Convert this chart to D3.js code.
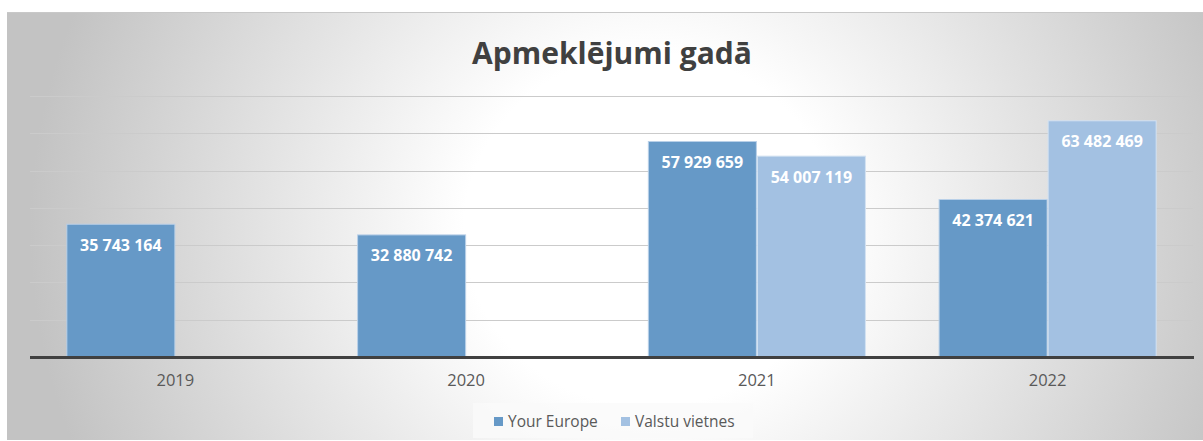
<!DOCTYPE html>
<html>
<head>
<meta charset="utf-8">
<script src="https://cdn.jsdelivr.net/npm/d3@7"></script>
<style>
  body { margin: 0; background: #fff; }
  text { font-family: "Open Sans", "Noto Sans", sans-serif; }
</style>
</head>
<body>
<div id="chart"></div>
<script>
// data
const years = ["2019", "2020", "2021", "2022"]
const seriesNames = ["Your Europe", "Valstu vietnes"]
const yourEurope = [35743164, 32880742, 57929659, 42374621]
const valstuVietnes = [null, null, 54007119, 63482469]
const yTicks = [0, 10e6, 20e6, 30e6, 40e6, 50e6, 60e6, 70e6]
const colors = ["#6699c7", "#a3c1e2"]
const strokes = ["#b9d0e8", "#d3e2f2"]

const w = 1203
const h = 441

const svg = d3.select("#chart")
  .append("svg")
  .attr("width", w)
  .attr("height", h)

// background gradient
const defs = svg.append("defs")
const grad = defs.append("radialGradient")
  .attr("id", "bg")
  .attr("gradientUnits", "userSpaceOnUse")
  .attr("cx", 650).attr("cy", 230).attr("r", 620)
  .attr("gradientTransform", "translate(650,230) scale(1,0.95) translate(-650,-230)")
grad.append("stop").attr("offset", "0").attr("stop-color", "#ffffff")
grad.append("stop").attr("offset", "0.3").attr("stop-color", "#ffffff")
grad.append("stop").attr("offset", "1").attr("stop-color", "#c3c3c3")

svg.append("rect")
  .attr("x", 7).attr("y", 12)
  .attr("width", 1220).attr("height", 428)
  .attr("fill", "url(#bg)")
svg.append("line")
  .attr("x1", 7).attr("x2", w)
  .attr("y1", 12.5).attr("y2", 12.5)
  .attr("stroke", "#c8c8c8")

// scales
const x0 = d3.scaleBand()
  .domain(years)
  .range([30, 1193])
  .paddingInner(0.25)
  .paddingOuter(0.125)

const x1 = d3.scaleBand()
  .domain(seriesNames)
  .range([0, x0.bandwidth()])

const y = d3.scaleLinear()
  .domain([0, 70e6])
  .range([357, 96])

// gridlines
svg.append("g")
  .selectAll("line")
  .data(yTicks.slice(1))
  .join("line")
  .attr("x1", 30).attr("x2", 1193)
  .attr("y1", d => Math.round(y(d)) + 0.5)
  .attr("y2", d => Math.round(y(d)) + 0.5)
  .attr("stroke", "#cbcbcb")
  .attr("stroke-width", 1)

// bars
const rows = years.map((yr, i) => ({
  year: yr,
  values: [yourEurope[i], valstuVietnes[i]]
}))

const groups = svg.append("g")
  .selectAll("g")
  .data(rows)
  .join("g")
  .attr("transform", d => `translate(${x0(d.year)},0)`)

const bars = groups.selectAll("g")
  .data(d => d.values.map((v, j) => ({ name: seriesNames[j], value: v, j: j })).filter(e => e.value != null))
  .join("g")

bars.append("rect")
  .attr("x", d => x1(d.name) + 0.5)
  .attr("y", d => y(d.value) + 0.5)
  .attr("width", x1.bandwidth() - 1)
  .attr("height", d => y(0) - y(d.value) - 0.5)
  .attr("fill", d => colors[d.j])
  .attr("stroke", d => strokes[d.j])
  .attr("stroke-width", 1)

bars.append("text")
  .attr("x", d => x1(d.name) + x1.bandwidth() / 2)
  .attr("y", d => y(d.value) + 27)
  .attr("text-anchor", "middle")
  .attr("fill", "#ffffff")
  .attr("font-weight", "bold")
  .attr("font-size", "16px")
  .text(d => d3.format(",")(d.value).replace(/,/g, " "))

// x axis
svg.append("line")
  .attr("x1", 30).attr("x2", 1194)
  .attr("y1", 357.5).attr("y2", 357.5)
  .attr("stroke", "#404040")
  .attr("stroke-width", 3)

const xAxis = d3.axisBottom(x0).tickSize(0).tickPadding(0)
const axG = svg.append("g")
  .attr("transform", "translate(0,369)")
  .call(xAxis)
axG.select(".domain").remove()
axG.selectAll("text")
  .attr("font-size", "16.5px")
  .attr("fill", "#595959")
  .attr("dy", "1em")

// title
svg.append("text")
  .attr("x", 612)
  .attr("y", 64)
  .attr("text-anchor", "middle")
  .attr("font-size", "30px")
  .attr("font-weight", "bold")
  .attr("fill", "#404040")
  .text("Apmeklējumi gadā")

// legend
svg.append("rect")
  .attr("x", 473).attr("y", 403)
  .attr("width", 280).attr("height", 35)
  .attr("fill", "#fafafa")
  .attr("opacity", 0.8)

const legX = [494, 621]
const legItem = svg.append("g")
  .selectAll("g")
  .data(seriesNames)
  .join("g")

legItem.append("rect")
  .attr("x", (d, i) => legX[i])
  .attr("y", 417)
  .attr("width", 9)
  .attr("height", 9)
  .attr("fill", (d, i) => colors[i])

legItem.append("text")
  .attr("x", (d, i) => legX[i] + 14)
  .attr("y", 427)
  .attr("font-size", "15.5px")
  .attr("fill", "#595959")
  .text(d => d)
</script>
</body>
</html>
